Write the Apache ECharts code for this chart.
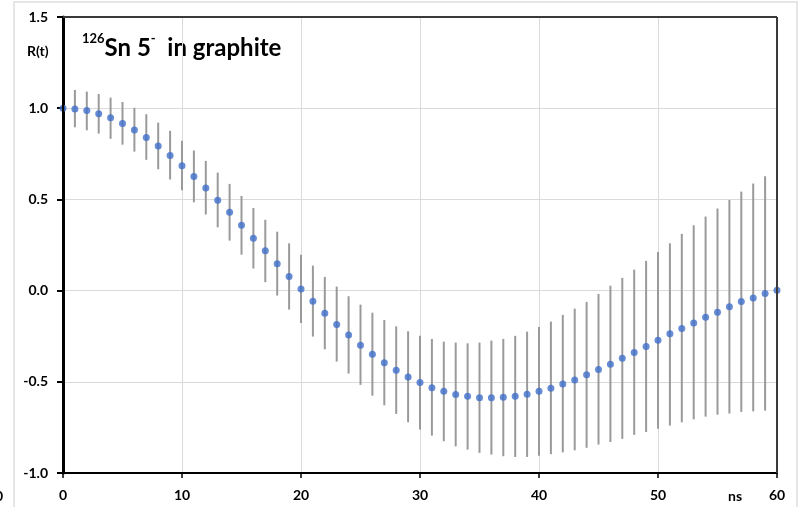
<!DOCTYPE html>
<html>
<head>
<meta charset="utf-8">
<script src="https://cdn.jsdelivr.net/npm/echarts@6/dist/echarts.min.js"></script>
<style>
  html, body { margin: 0; padding: 0; background: #fff; }
  #chart { width: 805px; height: 507px; }
</style>
</head>
<body>
<div id="chart"></div>
<script>
// time in ns
var times = [0, 1, 2, 3, 4, 5, 6, 7, 8, 9, 10, 11, 12, 13, 14, 15, 16, 17, 18, 19, 20,
    21, 22, 23, 24, 25, 26, 27, 28, 29, 30, 31, 32, 33, 34, 35, 36, 37, 38, 39, 40,
    41, 42, 43, 44, 45, 46, 47, 48, 49, 50, 51, 52, 53, 54, 55, 56, 57, 58, 59, 60];

// R(t) values
var rValues = [1.000, 0.996, 0.987, 0.969, 0.947, 0.916, 0.881, 0.839, 0.793, 0.740, 0.684,
    0.625, 0.563, 0.495, 0.429, 0.358, 0.287, 0.218, 0.147, 0.077, 0.009,
    -0.059, -0.124, -0.186, -0.243, -0.300, -0.349, -0.395, -0.437, -0.473, -0.504,
    -0.532, -0.552, -0.570, -0.579, -0.588, -0.588, -0.585, -0.579, -0.568, -0.552,
    -0.535, -0.512, -0.490, -0.462, -0.433, -0.404, -0.371, -0.340, -0.307, -0.272,
    -0.237, -0.208, -0.177, -0.146, -0.119, -0.089, -0.060, -0.040, -0.016, 0.002];

// error bar upper ends
var errHigh = [1.000, 1.100, 1.091, 1.078, 1.058, 1.034, 1.002, 0.967, 0.921, 0.876, 0.822,
    0.768, 0.711, 0.647, 0.585, 0.519, 0.453, 0.388, 0.323, 0.259, 0.197,
    0.137, 0.075, 0.022, -0.031, -0.077, -0.121, -0.161, -0.196, -0.223, -0.247,
    -0.265, -0.280, -0.285, -0.289, -0.285, -0.274, -0.265, -0.248, -0.225, -0.199,
    -0.170, -0.133, -0.099, -0.062, -0.018, 0.027, 0.070, 0.115, 0.163, 0.212,
    0.259, 0.311, 0.358, 0.406, 0.450, 0.497, 0.543, 0.587, 0.627, 0.674];

// error bar lower ends
var errLow = [1.000, 0.895, 0.879, 0.861, 0.832, 0.800, 0.762, 0.717, 0.665, 0.609, 0.550,
    0.484, 0.417, 0.347, 0.274, 0.197, 0.121, 0.046, -0.027, -0.104, -0.177,
    -0.252, -0.322, -0.389, -0.455, -0.517, -0.576, -0.629, -0.676, -0.722, -0.762,
    -0.795, -0.826, -0.854, -0.872, -0.890, -0.899, -0.908, -0.912, -0.912, -0.905,
    -0.897, -0.887, -0.876, -0.862, -0.844, -0.830, -0.813, -0.791, -0.775, -0.757,
    -0.740, -0.722, -0.706, -0.691, -0.680, -0.674, -0.665, -0.662, -0.658, -0.663];

var FONT = 'Lato, "Open Sans", sans-serif';

var chart = echarts.init(document.getElementById('chart'));

var points = times.map(function (t, i) { return [t, rValues[i]]; });
var bars = times.map(function (t, i) { return [t, errLow[i], errHigh[i]]; });

var gridLine = { lineStyle: { color: '#dadada', width: 1 } };
var mainLabel = { color: '#000', fontFamily: FONT, fontWeight: 'bold', fontSize: 14, margin: 15 };

var option = {
    animation: false,
    grid: { left: 63, right: 28, top: 17, bottom: 34 },
    xAxis: {
        type: 'value',
        position: 'bottom',
        min: 0, max: 60, interval: 10,
        axisLine: { show: true, onZero: false, lineStyle: { color: '#000', width: 2 } },
        axisTick: { show: true, length: 5, lineStyle: { color: '#000', width: 1.5 } },
        axisLabel: mainLabel,
        splitLine: gridLine
    },
    yAxis: {
        type: 'value',
        position: 'left',
        min: -1, max: 1.5, interval: 0.5,
        axisLine: { show: true, onZero: false, lineStyle: { color: '#000', width: 3 } },
        axisTick: { show: true, length: 6, lineStyle: { color: '#000', width: 2 } },
        axisLabel: {
            color: '#000', fontFamily: FONT, fontWeight: 'bold', fontSize: 14, margin: 15,
            formatter: function (v) { return v.toFixed(1); }
        },
        splitLine: gridLine
    },
    graphic: [
        // faint outer frame of the screenshot
        {
            type: 'rect', silent: true, z: -10,
            shape: { x: 14, y: 2, width: 783, height: 520 },
            style: { fill: 'none', stroke: '#dedede', lineWidth: 1.5 }
        },
        { type: 'text', left: -5, top: 489, style: { text: '0', font: 'bold 14px ' + FONT, fill: '#000' } },
        { type: 'text', left: 27, top: 44, style: { text: 'R(t)', font: 'bold 14px ' + FONT, fill: '#000' } },
        { type: 'text', left: 728, top: 489, style: { text: 'ns', font: 'bold 14px ' + FONT, fill: '#000' } },
        {
            type: 'text', left: 82, top: 32,
            style: {
                text: '{sup|126}{main|Sn 5}{sup|-}{main|  in graphite}',
                fill: '#000',
                rich: {
                    main: { fontFamily: FONT, fontWeight: 'bold', fontSize: 24, lineHeight: 28, verticalAlign: 'bottom' },
                    sup: { fontFamily: FONT, fontWeight: 'bold', fontSize: 13, lineHeight: 28, verticalAlign: 'top', padding: [0, 0, 12, 0] }
                }
            }
        }
    ],
    series: [
        {
            type: 'custom',
            z: 2,
            data: bars,
            encode: { x: 0, y: [1, 2] },
            renderItem: function (params, api) {
                var x = api.value(0);
                var lo = api.coord([x, api.value(1)]);
                var hi = api.coord([x, api.value(2)]);
                return {
                    type: 'line',
                    shape: { x1: lo[0], y1: lo[1], x2: hi[0], y2: hi[1] },
                    style: { stroke: '#9a9a9a', lineWidth: 2 }
                };
            }
        },
        {
            type: 'scatter',
            z: 3,
            data: points,
            symbol: 'circle',
            symbolSize: 7,
            itemStyle: { color: '#3f6fcb' },
            // plot frame: left axis, top and right borders
            markLine: {
                silent: true,
                symbol: ['none', 'none'],
                label: { show: false },
                animation: false,
                data: [
                    { xAxis: 0, lineStyle: { color: '#000', width: 2, type: 'solid' } },
                    { yAxis: 1.5, lineStyle: { color: '#3a3a3a', width: 2, type: 'solid' } },
                    { xAxis: 60, lineStyle: { color: '#3a3a3a', width: 2, type: 'solid' } }
                ]
            }
        }
    ]
};

chart.setOption(option);

window.addEventListener('resize', function () {
    chart.resize();
});
</script>
</body>
</html>
